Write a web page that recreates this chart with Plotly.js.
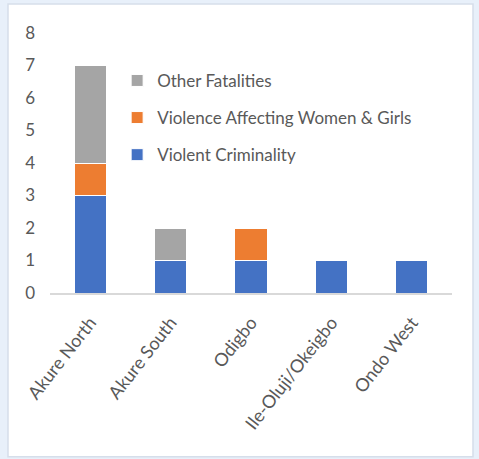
<!DOCTYPE html>
<html>
<head>
<meta charset="utf-8">
<script src="https://cdn.plot.ly/plotly-3.0.1.min.js"></script>
<style>
  html, body { margin: 0; padding: 0; background: #ffffff; }
  #chart { width: 479px; height: 459px; }
</style>
</head>
<body>
<div id="chart"></div>
<script>
// Fatalities by local government area, split by incident type
const areas = ["Akure North", "Akure South", "Odigbo", "Ile-Oluji/Okeigbo", "Ondo West"];
const violentCriminality = [3, 1, 1, 1, 1];
const violenceWomenGirls = [1, 0, 1, 0, 0];
const otherFatalities = [3, 1, 0, 0, 0];
const yTicks = [0, 1, 2, 3, 4, 5, 6, 7, 8];

const textColor = "#595959";
const fontFamily = "Lato, 'Open Sans', sans-serif";

function barTrace(name, values, color, group, rank) {
  return {
    type: "bar",
    name: name,
    x: areas,
    y: values,
    width: 0.4,
    legendgroup: group,
    legendrank: rank,
    marker: { color: color, line: { color: "#ffffff", width: 1 } },
    hoverinfo: "x+y+name"
  };
}

// stacked bottom to top; legend lists the top segment first
const data = [
  barTrace("Violent Criminality", violentCriminality, "#4472C4", "a", 3),
  barTrace("Violence Affecting Women &amp; Girls", violenceWomenGirls, "#ED7D31", "b", 2),
  barTrace("Other Fatalities", otherFatalities, "#A5A5A5", "c", 1)
];

const layout = {
  width: 479,
  height: 459,
  barmode: "stack",
  paper_bgcolor: "#e8f0fa",
  plot_bgcolor: "rgba(0,0,0,0)",
  margin: { l: 50, r: 27, t: 33, b: 166 },
  font: { family: fontFamily, color: textColor, size: 17 },
  showlegend: true,
  legend: {
    x: 0.167, y: 0.885,
    xanchor: "left", yanchor: "top",
    traceorder: "grouped",
    tracegroupgap: 12,
    bgcolor: "rgba(0,0,0,0)",
    font: { family: fontFamily, size: 17, color: textColor },
    itemwidth: 30
  },
  xaxis: {
    type: "category",
    tickangle: -52,
    showline: true,
    linecolor: "#d9d9d9",
    linewidth: 2,
    ticks: "",
    showgrid: false,
    zeroline: false,
    ticklabelstandoff: 10,
    tickfont: { family: fontFamily, size: 18, color: textColor },
    range: [-0.5, 4.5]
  },
  yaxis: {
    range: [0, 8],
    tickvals: yTicks,
    showgrid: false,
    zeroline: false,
    showline: false,
    ticks: "",
    ticklabelstandoff: 14,
    tickfont: { family: fontFamily, size: 17, color: textColor }
  },
  shapes: [
    {
      // white chart card with a light frame
      type: "rect", layer: "below",
      xref: "paper", yref: "paper",
      x0: -0.1045, x1: 1.0522, y0: -0.63, y1: 1.1115,
      fillcolor: "#ffffff",
      line: { color: "#d6deea", width: 1.5 }
    }
  ]
};

Plotly.newPlot("chart", data, layout, { displayModeBar: false, staticPlot: true });
</script>
</body>
</html>
